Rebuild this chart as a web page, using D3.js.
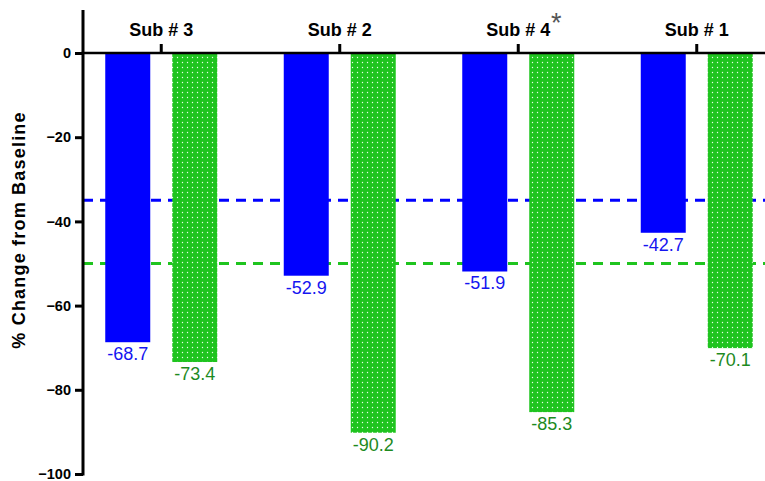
<!DOCTYPE html>
<html>
<head>
<meta charset="utf-8">
<script src="https://cdn.jsdelivr.net/npm/d3@7"></script>
<style>
  body { margin: 0; background: #fff; }
  svg { display: block; font-family: Arial, "Liberation Sans", sans-serif; }
</style>
</head>
<body>
<svg id="chart"></svg>
<script>
// Data
let subjects = ["Sub # 3", "Sub # 2", "Sub # 4", "Sub # 1"];
let blueValues = [-68.7, -52.9, -51.9, -42.7];
let greenValues = [-73.4, -90.2, -85.3, -70.1];
let starred = ["Sub # 4"];
let yTicks = [0, -20, -40, -60, -80, -100];
let blueThreshold = -35;
let greenThreshold = -50;

let config = { svg: { width: 765, height: 481 } };
let colors = { blue: "#0000ff", green: "#1fc41f", blueText: "#1515f0", greenText: "#1e8a1e" };
let fontFam = "Arial, 'Liberation Sans', sans-serif";

let svg = d3.select("#chart")
    .attr("width", config.svg.width)
    .attr("height", config.svg.height);

// pattern: white dots on green
let defs = svg.append("defs");
let pat = defs.append("pattern")
    .attr("id", "dots")
    .attr("patternUnits", "userSpaceOnUse")
    .attr("width", 5).attr("height", 5);
pat.append("rect").attr("width", 5).attr("height", 5).attr("fill", colors.green);
pat.append("circle").attr("cx", 2.5).attr("cy", 2.5).attr("r", 0.7).attr("fill", "#e8ffe8");

let y = d3.scaleLinear().domain([0, -100]).range([53, 474]);
let x = d3.scaleBand().domain(subjects).range([72, 786]).paddingInner(0).paddingOuter(0);
let axisX = 83;

// threshold lines (behind the bars)
svg.append("line")
    .attr("x1", axisX).attr("x2", 765)
    .attr("y1", y(blueThreshold)).attr("y2", y(blueThreshold))
    .attr("stroke", colors.blue).attr("stroke-width", 3)
    .attr("stroke-dasharray", "10,7");
svg.append("line")
    .attr("x1", axisX).attr("x2", 765)
    .attr("y1", y(greenThreshold)).attr("y2", y(greenThreshold))
    .attr("stroke", colors.green).attr("stroke-width", 3)
    .attr("stroke-dasharray", "10,7");

// bars
let halfGap = 11, barW = 45;
let groups = svg.append("g").attr("id", "bars");
subjects.forEach(function(s, i) {
    let cx = x(s) + x.bandwidth() / 2;
    groups.append("rect")
        .attr("x", cx - halfGap - barW)
        .attr("y", y(0))
        .attr("width", barW)
        .attr("height", y(blueValues[i]) - y(0))
        .attr("fill", colors.blue);
    groups.append("rect")
        .attr("x", cx + halfGap)
        .attr("y", y(0))
        .attr("width", barW)
        .attr("height", y(greenValues[i]) - y(0))
        .attr("fill", "url(#dots)");
    groups.append("text")
        .attr("x", cx - halfGap - barW / 2)
        .attr("y", y(blueValues[i]) + 18)
        .attr("text-anchor", "middle")
        .attr("font-size", 18)
        .attr("fill", colors.blueText)
        .text(blueValues[i].toFixed(1));
    groups.append("text")
        .attr("x", cx + halfGap + barW / 2)
        .attr("y", y(greenValues[i]) + 18)
        .attr("text-anchor", "middle")
        .attr("font-size", 18)
        .attr("fill", colors.greenText)
        .text(greenValues[i].toFixed(1));
});

// y axis
let yAxis = d3.axisLeft(y).tickValues(yTicks).tickSize(8).tickPadding(4).tickFormat(d3.format("d"));
let yg = svg.append("g")
    .attr("transform", "translate(" + axisX + ",0)")
    .call(yAxis);
yg.select(".domain").remove();
yg.selectAll(".tick line").attr("stroke", "#000").attr("stroke-width", 3);
yg.selectAll(".tick text").attr("font-size", 14.5).attr("font-weight", "bold").attr("fill", "#000")
    .attr("font-family", fontFam);
svg.append("line")
    .attr("x1", axisX).attr("x2", axisX)
    .attr("y1", 10).attr("y2", y(-100) + 1.5)
    .attr("stroke", "#000").attr("stroke-width", 3);

// x axis at zero, ticks upward with subject labels
let xAxis = d3.axisTop(x).tickSize(9).tickPadding(6);
let xg = svg.append("g")
    .attr("transform", "translate(0," + y(0) + ")")
    .call(xAxis);
xg.select(".domain").remove();
xg.selectAll(".tick line").attr("stroke", "#000").attr("stroke-width", 3);
xg.selectAll(".tick text").attr("font-size", 18).attr("font-weight", "bold").attr("fill", "#000")
    .attr("font-family", fontFam)
    .attr("dy", "-0.1em");
// asterisk next to starred subjects
xg.selectAll(".tick").filter(d => starred.indexOf(d) >= 0)
    .append("text")
    .attr("x", 38).attr("y", -21)
    .attr("font-size", 27).attr("fill", "#555")
    .attr("font-family", fontFam)
    .attr("text-anchor", "middle")
    .text("*");
svg.append("line")
    .attr("x1", axisX - 1.5).attr("x2", 765)
    .attr("y1", y(0)).attr("y2", y(0))
    .attr("stroke", "#000").attr("stroke-width", 2.5);

// y title
svg.append("text")
    .attr("transform", "translate(25,230) rotate(-90)")
    .attr("text-anchor", "middle")
    .attr("font-size", 18)
    .attr("letter-spacing", 1.2)
    .attr("font-weight", "bold")
    .text("% Change from Baseline");
</script>
</body>
</html>
